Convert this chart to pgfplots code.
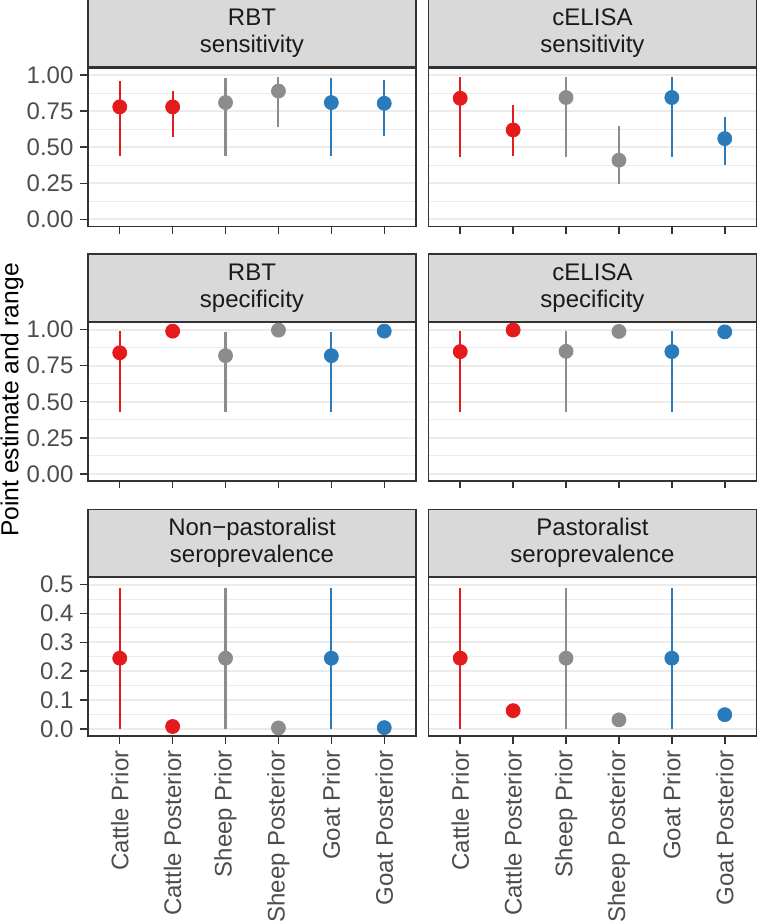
\documentclass[border=0pt]{standalone}
\usepackage{fontspec}
\setmainfont{Liberation Sans}
\usepackage{pgfplots}
\usepackage{pgfplotstable}
\pgfplotsset{compat=1.18}

\definecolor{grey20}{HTML}{333333}
\definecolor{grey30}{HTML}{4D4D4D}
\definecolor{grey10}{HTML}{1A1A1A}
\definecolor{grey85}{HTML}{D9D9D9}
\definecolor{grey92}{HTML}{EBEBEB}
\definecolor{cattle}{HTML}{E41A1C}
\definecolor{sheep}{HTML}{8C8C8C}
\definecolor{goat}{HTML}{2B7BBA}

% x: 1 Cattle Prior, 2 Cattle Posterior, 3 Sheep Prior, 4 Sheep Posterior, 5 Goat Prior, 6 Goat Posterior
\pgfplotstableread{
x y lo hi
1 0.78 0.44 0.96
2 0.78 0.57 0.89
3 0.81 0.44 0.98
4 0.89 0.64 0.99
5 0.81 0.44 0.98
6 0.805 0.575 0.965
}\rbtsens
\pgfplotstableread{
x y lo hi
1 0.84 0.43 0.99
2 0.62 0.44 0.79
3 0.845 0.43 0.99
4 0.41 0.245 0.65
5 0.845 0.43 0.99
6 0.56 0.38 0.71
}\elisasens
\pgfplotstableread{
x y lo hi
1 0.84 0.43 0.99
2 0.99 0.985 0.995
3 0.82 0.43 0.985
4 0.997 0.994 0.999
5 0.82 0.43 0.985
6 0.99 0.985 0.995
}\rbtspec
\pgfplotstableread{
x y lo hi
1 0.848 0.428 0.993
2 0.998 0.996 0.999
3 0.85 0.428 0.993
4 0.988 0.984 0.992
5 0.848 0.428 0.993
6 0.985 0.98 0.99
}\elisaspec
\pgfplotstableread{
x y lo hi
1 0.245 0.0 0.49
2 0.008 0.004 0.013
3 0.245 0.0 0.49
4 0.003 0.001 0.006
5 0.245 0.0 0.49
6 0.004 0.002 0.007
}\nonpast
\pgfplotstableread{
x y lo hi
1 0.245 0.0 0.49
2 0.063 0.05 0.077
3 0.245 0.0 0.49
4 0.031 0.02 0.042
5 0.245 0.0 0.49
6 0.049 0.038 0.06
}\past

\pgfplotsset{
  facet/.style={
    scale only axis, width=164pt, height=79.25pt,
    anchor=south west, clip=false,
    xmin=0.4, xmax=6.6, xtick={1,2,3,4,5,6}, xticklabels={},
    axis line style={grey20, line width=0.75pt},
    tick align=outside, xtick pos=left, ytick pos=left,
    major tick length=3.75pt,
    major tick style={grey20, line width=0.75pt},
    minor tick length=0pt,
    ymajorgrids, yminorgrids,
    major grid style={grey92, line width=1pt},
    minor grid style={grey92, line width=0.5pt},
    tick label style={font=\fontsize{12}{14}\selectfont, text=grey30},
    every axis title/.style={at={(0.5,1)}, anchor=south, fill=grey85,
      draw=grey20, line width=0.75pt, minimum width=164pt,
      minimum height=33.75pt, inner sep=0pt, align=center,
      font=\fontsize{12}{13.5}\selectfont, text=grey10},
  },
  unit/.style={ymin=-0.05, ymax=1.05, ytick={0,0.25,0.5,0.75,1},
    minor ytick={0.125,0.375,0.625,0.875},
    yticklabels={0.00,0.25,0.50,0.75,1.00}},
  prev/.style={ymin=-0.025, ymax=0.525, ytick={0,0.1,0.2,0.3,0.4,0.5},
    minor ytick={0.05,0.15,0.25,0.35,0.45},
    yticklabels={0.0,0.1,0.2,0.3,0.4,0.5},
    xticklabels={Cattle Prior,Cattle Posterior,Sheep Prior,Sheep Posterior,Goat Prior,Goat Posterior},
    xticklabel style={rotate=90, anchor=east}},
  rightcol/.style={yticklabels={}, ytick style={draw=none}},
  rng/.style={only marks, mark=*, mark size=3.5pt, mark options={draw=none, fill=#1},
    color=#1, error bars/y dir=both, error bars/y explicit, error bars/error mark=none,
    error bars/error bar style={line width=1.05pt, color=#1}},
}

\newcommand\species[1]{%
  \addplot[rng=cattle, restrict x to domain=0.5:2.5] table[x=x, y=y,
    y error plus expr=\thisrow{hi}-\thisrow{y}, y error minus expr=\thisrow{y}-\thisrow{lo}] {#1};
  \addplot[rng=sheep, restrict x to domain=2.5:4.5] table[x=x, y=y,
    y error plus expr=\thisrow{hi}-\thisrow{y}, y error minus expr=\thisrow{y}-\thisrow{lo}] {#1};
  \addplot[rng=goat, restrict x to domain=4.5:6.5] table[x=x, y=y,
    y error plus expr=\thisrow{hi}-\thisrow{y}, y error minus expr=\thisrow{y}-\thisrow{lo}] {#1};
}

\begin{document}
\begin{tikzpicture}
\path[use as bounding box] (0,0) rectangle (378.5pt,461.5pt);

\begin{axis}[facet, unit, at={(44pt,348.25pt)}, title={RBT\\sensitivity}]
\species{\rbtsens}
\end{axis}
\begin{axis}[facet, unit, rightcol, at={(214.25pt,348.25pt)}, title={cELISA\\sensitivity}]
\species{\elisasens}
\end{axis}

\begin{axis}[facet, unit, at={(44pt,221pt)}, title={RBT\\specificity}]
\species{\rbtspec}
\end{axis}
\begin{axis}[facet, unit, rightcol, at={(214.25pt,221pt)}, title={cELISA\\specificity}]
\species{\elisaspec}
\end{axis}

\begin{axis}[facet, prev, at={(44pt,93.5pt)}, title={Non\textminus pastoralist\\seroprevalence}]
\species{\nonpast}
\end{axis}
\begin{axis}[facet, prev, rightcol, at={(214.25pt,93.5pt)}, title={Pastoralist\\seroprevalence}]
\species{\past}
\end{axis}

\node[rotate=90, font=\fontsize{12.3}{14}\selectfont, text=black, inner sep=0pt] at (6pt,261.5pt) {Point estimate and range};
\end{tikzpicture}
\end{document}
